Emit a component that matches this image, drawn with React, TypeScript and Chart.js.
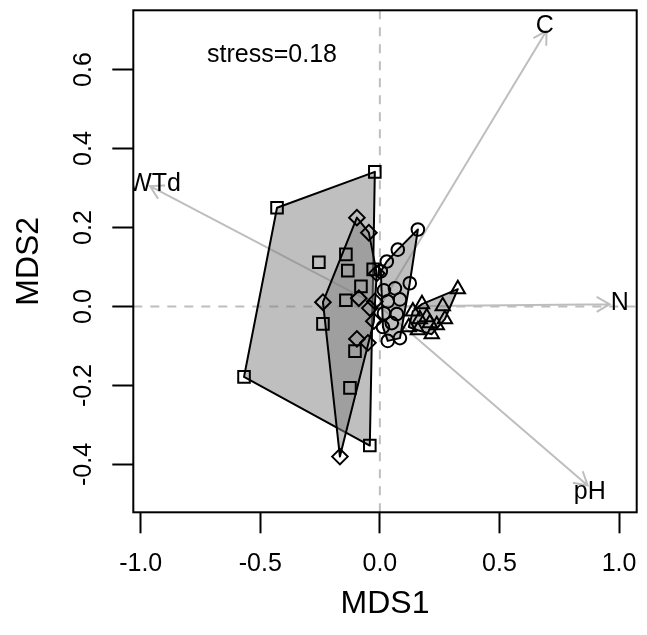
import { useEffect, useRef } from "react";
import { Chart, registerables } from "chart.js";

Chart.register(...registerables);

const FONT = "'Liberation Sans', Arial, Helvetica, sans-serif";

// Site scores (MDS1, MDS2) per group
const squareX = [-0.021, -0.43, -0.255, -0.142, -0.134, -0.028, -0.079, -0.142, -0.238, -0.568, -0.104, -0.125, -0.042];
const squareY = [0.341, 0.25, 0.112, 0.132, 0.091, 0.094, 0.051, 0.016, -0.044, -0.178, -0.113, -0.206, -0.352];
const diamondX = [-0.096, -0.046, -0.013, -0.021, -0.088, -0.238, -0.042, -0.025, -0.096, -0.05, -0.167];
const diamondY = [0.225, 0.187, 0.084, 0.013, 0.021, 0.011, -0.004, -0.037, -0.082, -0.092, -0.38];
const circleX = [0.159, 0.075, 0.029, 0.004, 0.125, 0.063, 0.017, 0.033, 0.084, 0.017, 0.071, 0.05, 0.013, 0.033, 0.084];
const circleY = [0.195, 0.144, 0.114, 0.089, 0.059, 0.046, 0.041, 0.013, 0.018, -0.017, -0.019, -0.042, -0.052, -0.087, -0.08];
const triangleX = [0.326, 0.263, 0.176, 0.138, 0.196, 0.272, 0.167, 0.209, 0.121, 0.159, 0.217, 0.238];
const triangleY = [0.044, 0.001, 0.006, -0.012, -0.027, -0.032, -0.032, -0.042, -0.052, -0.06, -0.07, -0.047];

// Environmental vectors (envfit)
const vectorNames = ["C", "WTd", "N", "pH"];
const vectorX = [0.697, -0.961, 0.961, 0.869];
const vectorY = [0.698, 0.305, 0.006, -0.453];
const labelX = [0.69, -0.942, 1.003, 0.878];
const labelY = [0.709, 0.311, 0.008, -0.47];

const stressText = "stress=0.18";
const stressPos = [-0.451, 0.636];

const xTicks = [-1.0, -0.5, 0.0, 0.5, 1.0];
const yTicks = [-0.4, -0.2, 0.0, 0.2, 0.4, 0.6];
const xRange = [-1.031, 1.074];
const yRange = [-0.521, 0.75];

type P = { x: number; y: number };
const toPts = (xs: number[], ys: number[]): P[] => xs.map((v, i) => ({ x: v, y: ys[i] }));

function hull(points: P[]): P[] {
  const pts = points.slice().sort((a, b) => (a.x === b.x ? a.y - b.y : a.x - b.x));
  const cross = (o: P, a: P, b: P) => (a.x - o.x) * (b.y - o.y) - (a.y - o.y) * (b.x - o.x);
  const lower: P[] = [];
  for (const p of pts) {
    while (lower.length >= 2 && cross(lower[lower.length - 2], lower[lower.length - 1], p) <= 0) lower.pop();
    lower.push(p);
  }
  const upper: P[] = [];
  for (let i = pts.length - 1; i >= 0; i--) {
    const p = pts[i];
    while (upper.length >= 2 && cross(upper[upper.length - 2], upper[upper.length - 1], p) <= 0) upper.pop();
    upper.push(p);
  }
  upper.pop();
  lower.pop();
  return lower.concat(upper);
}

const groups = [
  toPts(squareX, squareY),
  toPts(diamondX, diamondY),
  toPts(circleX, circleY),
  toPts(triangleX, triangleY),
];

const decor = {
  id: "decor",
  beforeDatasetsDraw(chart: any) {
    const { ctx, chartArea: a, scales } = chart;
    const xs = scales.x;
    const ys = scales.y;
    ctx.save();
    ctx.beginPath();
    ctx.rect(a.left, a.top, a.right - a.left, a.bottom - a.top);
    ctx.clip();

    // dashed zero lines
    const x0 = xs.getPixelForValue(0);
    const y0 = ys.getPixelForValue(0);
    ctx.strokeStyle = "#bebebe";
    ctx.lineWidth = 2;
    ctx.setLineDash([9, 8]);
    ctx.beginPath();
    ctx.moveTo(x0, a.top);
    ctx.lineTo(x0, a.bottom);
    ctx.moveTo(a.left, y0);
    ctx.lineTo(a.right, y0);
    ctx.stroke();
    ctx.setLineDash([]);

    // arrows
    ctx.strokeStyle = "#bebebe";
    ctx.lineWidth = 2;
    vectorX.forEach((vx, i) => {
      const tx = xs.getPixelForValue(vx);
      const ty = ys.getPixelForValue(vectorY[i]);
      const ang = Math.atan2(ty - y0, tx - x0);
      const L = 15;
      const h = Math.PI / 6;
      ctx.beginPath();
      ctx.moveTo(x0, y0);
      ctx.lineTo(tx, ty);
      ctx.moveTo(tx - L * Math.cos(ang - h), ty - L * Math.sin(ang - h));
      ctx.lineTo(tx, ty);
      ctx.lineTo(tx - L * Math.cos(ang + h), ty - L * Math.sin(ang + h));
      ctx.stroke();
    });

    // arrow labels
    ctx.fillStyle = "#000";
    ctx.font = `25px ${FONT}`;
    ctx.textAlign = "center";
    ctx.textBaseline = "middle";
    vectorNames.forEach((n, i) => {
      ctx.fillText(n, xs.getPixelForValue(labelX[i]), ys.getPixelForValue(labelY[i]));
    });

    // hulls
    groups.forEach((g) => {
      const hp = hull(g);
      ctx.beginPath();
      hp.forEach((p, i) => {
        const px = xs.getPixelForValue(p.x);
        const py = ys.getPixelForValue(p.y);
        if (i === 0) ctx.moveTo(px, py);
        else ctx.lineTo(px, py);
      });
      ctx.closePath();
      ctx.fillStyle = "rgba(128,128,128,0.5)";
      ctx.fill();
      ctx.strokeStyle = "#000";
      ctx.lineWidth = 2;
      ctx.lineJoin = "round";
      ctx.stroke();
    });
    ctx.restore();
  },
  afterDraw(chart: any) {
    const { ctx, chartArea: a, scales } = chart;
    const xs = scales.x;
    const ys = scales.y;
    ctx.save();
    ctx.strokeStyle = "#000";
    ctx.lineWidth = 2;
    ctx.strokeRect(a.left, a.top, a.right - a.left, a.bottom - a.top);

    ctx.fillStyle = "#000";
    ctx.font = `25px ${FONT}`;
    ctx.textAlign = "center";
    ctx.textBaseline = "middle";
    ctx.fillText(stressText, xs.getPixelForValue(stressPos[0]), ys.getPixelForValue(stressPos[1]));

    // y tick labels (rotated, as in R)
    yTicks.forEach((v) => {
      ctx.save();
      ctx.translate(84, ys.getPixelForValue(v));
      ctx.rotate(-Math.PI / 2);
      ctx.fillText(v.toFixed(1), 0, 0);
      ctx.restore();
    });
    ctx.restore();
  },
};

export default function App() {
  const ref = useRef<HTMLCanvasElement | null>(null);
  useEffect(() => {
    if (!ref.current) return;
    const pointCommon = {
      borderColor: "#000",
      backgroundColor: "rgba(0,0,0,0)",
      pointBorderWidth: 2,
      showLine: false,
    };
    const chart = new Chart(ref.current, {
      type: "scatter",
      data: {
        datasets: [
          { ...pointCommon, label: "sq", data: groups[0], pointStyle: "rect", pointRadius: 8.2 },
          { ...pointCommon, label: "di", data: groups[1], pointStyle: "rectRot", pointRadius: 7.8 },
          { ...pointCommon, label: "ci", data: groups[2], pointStyle: "circle", pointRadius: 6.3 },
          { ...pointCommon, label: "tr", data: groups[3], pointStyle: "triangle", pointRadius: 8.3 },
        ] as any,
      },
      options: {
        animation: false,
        responsive: false,
        devicePixelRatio: 1,
        events: [],
        layout: { padding: { left: 0, top: 7.5, right: 10, bottom: 0 } },
        plugins: { legend: { display: false }, tooltip: { enabled: false } },
        scales: {
          x: {
            type: "linear",
            min: xRange[0],
            max: xRange[1],
            afterBuildTicks: (s: any) => {
              s.ticks = xTicks.map((v) => ({ value: v }));
            },
            afterFit: (s: any) => {
              s.height = 122.7;
              s.paddingLeft = 0;
              s.paddingRight = 0;
            },
            ticks: {
              callback: (v: any) => Number(v).toFixed(1),
              font: { family: FONT, size: 25 },
              color: "#000",
              padding: 16,
              maxRotation: 0,
              minRotation: 0,
              autoSkip: false,
            },
            grid: { drawOnChartArea: false, drawTicks: true, tickLength: 21, tickWidth: 2, tickColor: "#000" },
            border: { display: false },
            title: {
              display: true,
              text: "MDS1",
              color: "#000",
              font: { family: FONT, size: 32 },
              padding: { top: 0, bottom: 12 },
            },
          },
          y: {
            type: "linear",
            min: yRange[0],
            max: yRange[1],
            afterBuildTicks: (s: any) => {
              s.ticks = yTicks.map((v) => ({ value: v }));
            },
            afterFit: (s: any) => {
              s.width = 133.3;
              s.paddingTop = 0;
              s.paddingBottom = 0;
            },
            ticks: { display: false },
            grid: { drawOnChartArea: false, drawTicks: true, tickLength: 21, tickWidth: 2, tickColor: "#000" },
            border: { display: false },
            title: {
              display: true,
              text: "MDS2",
              color: "#000",
              font: { family: FONT, size: 32 },
              padding: { top: 10, bottom: 0 },
            },
          },
        },
      } as any,
      plugins: [decor],
    });
    return () => chart.destroy();
  }, []);
  return (
    <div style={{ position: "absolute", left: 0, top: 0, width: 647, height: 635 }}>
      <canvas ref={ref} width={647} height={635} />
    </div>
  );
}
